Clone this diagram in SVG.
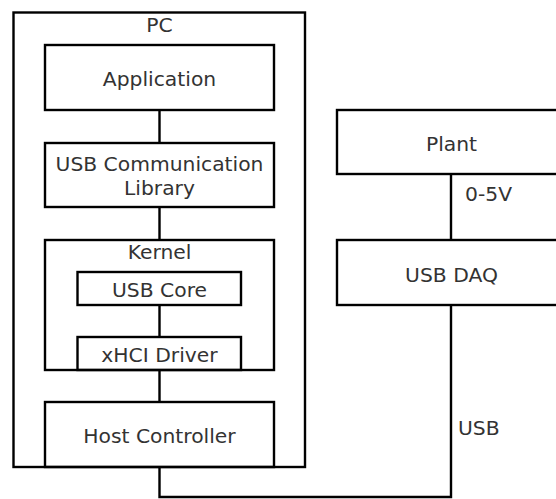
<svg xmlns="http://www.w3.org/2000/svg" width="556" height="499" viewBox="0 0 556 499">
<style>
rect{fill:none;stroke:#000;stroke-width:2.4}
.c path{fill:none;stroke:#000;stroke-width:2.4}
text{font-family:"DejaVu Sans",sans-serif;font-size:20.3px;fill:#333}
.m{text-anchor:middle}
</style>
<rect width="556" height="499" style="fill:#fff;stroke:none"/>
<g class="c">
<path d="M159.5 110V143M159.5 207V240M159.5 305V337M159.5 370V402M159.5 467V497H451V305M451 174V240"/>
</g>
<g id="pc"><rect x="13.5" y="12.5" width="291.5" height="454.5"/><text class="m" x="159.5" y="32">PC</text></g>
<g id="application"><rect x="45" y="45" width="229" height="65"/><text class="m" x="159.5" y="86">Application</text></g>
<g id="usblib"><rect x="45" y="143" width="229" height="64"/><text class="m" x="159.5" y="170.5">USB Communication</text><text class="m" x="159.5" y="194.5">Library</text></g>
<g id="kernel"><rect x="45" y="240" width="229" height="130"/><text class="m" x="159.5" y="259">Kernel</text></g>
<g id="usbcore"><rect x="77.5" y="272" width="163.5" height="33"/><text class="m" x="159.5" y="297">USB Core</text></g>
<g id="xhci"><rect x="77.5" y="337" width="163.5" height="33"/><text class="m" x="159.5" y="362">xHCI Driver</text></g>
<g id="hostctrl"><rect x="45" y="402" width="229" height="65"/><text class="m" x="159.5" y="443">Host Controller</text></g>
<g id="plant"><rect x="337" y="110" width="229" height="64"/><text class="m" x="451.5" y="151">Plant</text></g>
<g id="daq"><rect x="337" y="240" width="229" height="65"/><text class="m" x="451.5" y="282">USB DAQ</text></g>
<text x="465" y="201">0-5V</text>
<text x="458" y="435">USB</text>
</svg>
